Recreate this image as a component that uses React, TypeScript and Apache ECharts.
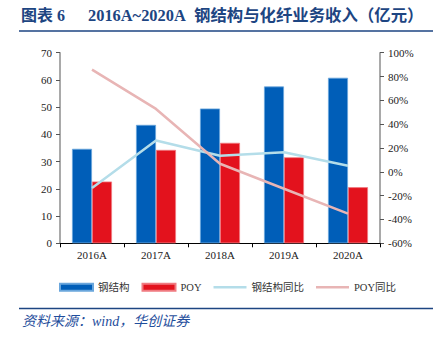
import React, { useEffect, useRef } from "react";
import * as echarts from "echarts";

const categories = ["2016A", "2017A", "2018A", "2019A", "2020A"];
const steelRevenue = [34.7, 43.5, 49.5, 57.6, 60.8];
const poyRevenue = [22.7, 34.3, 36.9, 31.6, 20.6];
const steelYoY = [-13.6, 26.3, 13.5, 16.5, 5.1];
const poyYoY = [85.8, 52.8, 6.8, -14.2, -35.1];

const SERIF = "'Liberation Serif', 'Times New Roman', 'Noto Sans CJK SC', serif";
const TITLE_BLUE = "#1d4582";
const LINE_ICON = "path://M0,0 L100,0 L100,8 L0,8 Z";

export default function App() {
  const ref = useRef<HTMLDivElement>(null);
  useEffect(() => {
    if (!ref.current) return;
    const chart = echarts.init(ref.current, null, { renderer: "svg" });
    chart.setOption({
      animation: false,
      backgroundColor: "#ffffff",
      textStyle: { fontFamily: SERIF },
      graphic: [
        {
          type: "text",
          left: 21,
          top: 7,
          style: { text: "图表 6", font: "bold 16px " + SERIF, fill: TITLE_BLUE },
        },
        {
          type: "text",
          left: 88,
          top: 7,
          style: { text: "2016A~2020A", font: "bold 16.4px " + SERIF, fill: TITLE_BLUE },
        },
        {
          type: "text",
          left: 194,
          top: 7,
          style: { text: "钢结构与化纤业务收入（亿元）", font: "bold 16.4px " + SERIF, fill: TITLE_BLUE },
        },
        {
          type: "line",
          shape: { x1: 19, y1: 31, x2: 433, y2: 31 },
          style: { stroke: TITLE_BLUE, lineWidth: 1.5 },
        },
        {
          type: "line",
          shape: { x1: 19, y1: 308.5, x2: 433, y2: 308.5 },
          style: { stroke: TITLE_BLUE, lineWidth: 1.5 },
        },
        {
          type: "text",
          left: 22,
          top: 314,
          style: {
            text: "资料来源：wind，华创证券",
            font: "italic 14px " + SERIF,
            fill: "#1f4e9c",
          },
        },
      ],
      legend: {
        top: 277,
        left: 54,
        itemGap: 12,
        itemWidth: 33,
        itemHeight: 7,
        textStyle: { fontFamily: SERIF, fontSize: 10.5, color: "#333" },
        data: [
          { name: "钢结构", icon: "rect" },
          { name: "POY", icon: "rect" },
          { name: "钢结构同比", icon: LINE_ICON },
          { name: "POY同比", icon: LINE_ICON },
        ],
      },
      grid: { left: 60, right: 58, top: 52.7, bottom: 94.7, containLabel: false },
      xAxis: {
        type: "category",
        data: categories,
        axisLine: { lineStyle: { color: "#000", width: 1 } },
        axisTick: { show: true, alignWithLabel: false, length: 4, lineStyle: { color: "#000" } },
        axisLabel: { color: "#222", fontSize: 11, fontFamily: SERIF, margin: 6 },
      },
      yAxis: [
        {
          type: "value",
          min: 0,
          max: 70,
          interval: 10,
          splitLine: { show: false },
          axisLine: { show: true, lineStyle: { color: "#8c8c8c", width: 1.5 } },
          axisTick: { show: true, length: 4, lineStyle: { color: "#555" } },
          axisLabel: { color: "#222", fontSize: 11, fontFamily: SERIF, margin: 8 },
        },
        {
          type: "value",
          min: -60,
          max: 100,
          interval: 20,
          splitLine: { show: false },
          axisLine: { show: true, lineStyle: { color: "#8c8c8c", width: 1.5 } },
          axisTick: { show: true, length: 4, lineStyle: { color: "#555" } },
          axisLabel: { color: "#222", fontSize: 11, fontFamily: SERIF, margin: 8, formatter: "{value}%" },
        },
      ],
      series: [
        {
          name: "钢结构",
          type: "bar",
          data: steelRevenue,
          barWidth: 20,
          barGap: "0%",
          itemStyle: { color: "#005eb8", borderColor: "#6aa6dc", borderWidth: 0.8 },
        },
        {
          name: "POY",
          type: "bar",
          data: poyRevenue,
          barWidth: 20,
          barGap: "0%",
          itemStyle: { color: "#e3121d", borderColor: "#f07a80", borderWidth: 0.8 },
        },
        {
          name: "钢结构同比",
          type: "line",
          yAxisIndex: 1,
          data: steelYoY,
          symbol: "none",
          lineStyle: { color: "#b4dde9", width: 2.5 },
          itemStyle: { color: "#b4dde9" },
        },
        {
          name: "POY同比",
          type: "line",
          yAxisIndex: 1,
          data: poyYoY,
          symbol: "none",
          lineStyle: { color: "#e8b5b5", width: 2.5 },
          itemStyle: { color: "#e8b5b5" },
        },
      ],
    });
    return () => chart.dispose();
  }, []);
  return <div ref={ref} style={{ width: 438, height: 338, position: "absolute", left: 0, top: 0 }} />;
}
